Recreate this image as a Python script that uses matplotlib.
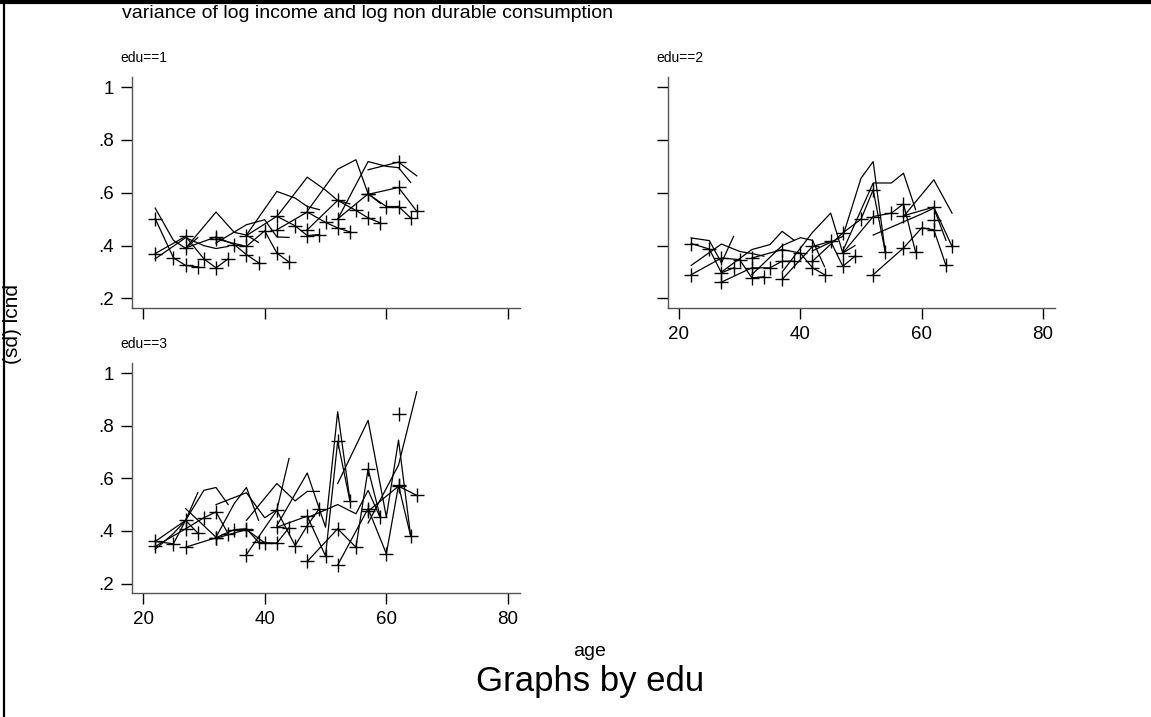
import matplotlib
matplotlib.use("Agg")
import matplotlib.pyplot as plt

# Ages at which each birth cohort is observed (5-year cohort bands,
# surveys spaced 5, 3, 2 and 2 years apart; ages capped at 65).
cohort_ages = [
    [22, 25, 27, 29],
    [22, 27, 30, 32, 34],
    [27, 32, 35, 37, 39],
    [32, 37, 40, 42, 44],
    [37, 42, 45, 47, 49],
    [42, 47, 50, 52, 54],
    [47, 52, 55, 57, 59],
    [52, 57, 60, 62, 64],
    [57, 62, 65],
    [62],
]

# Standard deviations by cohort: plain lines and "+" connected lines.
edu1_plain = [
    [0.542, 0.42, 0.39, 0.43],
    [0.35, 0.43, 0.40, 0.389, 0.397],
    [0.39, 0.527, 0.45, 0.44, 0.412],
    [0.41, 0.479, 0.498, 0.433, 0.431],
    [0.44, 0.605, 0.58, 0.548, 0.536],
    [0.51, 0.659, 0.61, 0.571, 0.558],
    [0.53, 0.689, 0.725, 0.596, 0.56],
    [0.50, 0.718, 0.70, 0.695, 0.639],
    [0.687, 0.716, 0.664],
]
edu1_plus = [
    [0.502, 0.354, 0.325, 0.32],
    [0.37, 0.435, 0.35, 0.316, 0.35],
    [0.391, 0.433, 0.404, 0.366, 0.335],
    [0.425, 0.397, 0.456, 0.372, 0.338],
    [0.438, 0.511, 0.475, 0.438, 0.442],
    [0.46, 0.527, 0.488, 0.467, 0.452],
    [0.46, 0.571, 0.533, 0.505, 0.486],
    [0.501, 0.596, 0.548, 0.548, 0.505],
    [0.594, 0.62, 0.53],
    [0.716],
]

edu2_plain = [
    [0.429, 0.419, 0.335, 0.435],
    [0.325, 0.406, 0.378, 0.37, 0.36],
    [0.30, 0.385, 0.404, 0.454, 0.42],
    [0.29, 0.40, 0.43, 0.42, 0.32],
    [0.30, 0.45, 0.523, 0.372, 0.40],
    [0.38, 0.435, 0.655, 0.718, 0.375],
    [0.38, 0.637, 0.637, 0.674, 0.536],
    [0.44, 0.49, 0.52, 0.542, 0.42],
    [0.51, 0.649, 0.523],
]
edu2_plus = [
    [0.408, 0.387, 0.297, 0.316],
    [0.29, 0.353, 0.347, 0.278, 0.282],
    [0.262, 0.316, 0.316, 0.341, 0.341],
    [0.353, 0.385, 0.372, 0.316, 0.29],
    [0.272, 0.397, 0.416, 0.322, 0.36],
    [0.341, 0.448, 0.50, 0.611, 0.375],
    [0.372, 0.51, 0.523, 0.558, 0.375],
    [0.29, 0.391, 0.467, 0.46, 0.325],
    [0.513, 0.546, 0.397],
    [0.498],
]

edu3_plain = [
    [0.33, 0.39, 0.44, 0.545],
    [0.36, 0.44, 0.554, 0.565, 0.50],
    [0.485, 0.376, 0.504, 0.565, 0.44],
    [0.50, 0.545, 0.45, 0.48, 0.675],
    [0.44, 0.58, 0.514, 0.55, 0.55],
    [0.42, 0.62, 0.414, 0.853, 0.52],
    [0.45, 0.50, 0.465, 0.554, 0.45],
    [0.58, 0.82, 0.453, 0.745, 0.38],
    [0.43, 0.65, 0.929],
]
edu3_plus = [
    [0.36, 0.351, 0.44, 0.392],
    [0.341, 0.408, 0.45, 0.472, 0.389],
    [0.338, 0.374, 0.405, 0.408, 0.357],
    [0.372, 0.405, 0.355, 0.354, 0.412],
    [0.31, 0.478, 0.344, 0.42, 0.485],
    [0.414, 0.456, 0.305, 0.741, 0.515],
    [0.284, 0.408, 0.338, 0.635, 0.453],
    [0.27, 0.485, 0.313, 0.573, 0.38],
    [0.475, 0.57, 0.535],
    [0.845],
]

panel_titles = ["edu==1", "edu==2", "edu==3"]
x_ticks = [20, 40, 60, 80]
y_ticks = [0.2, 0.4, 0.6, 0.8, 1.0]
y_tick_labels = [".2", ".4", ".6", ".8", "1"]

plt.rcParams["font.family"] = ["Liberation Sans", "DejaVu Sans"]

W, H = 1151, 717
fig = plt.figure(figsize=(W / 100, H / 100), dpi=100)


def frac(x0, y0, x1, y1):
    return [x0 / W, 1 - y1 / H, (x1 - x0) / W, (y1 - y0) / H]


# axis boxes in pixel coordinates (left, top, right, bottom)
boxes = [
    (132, 77, 520, 308),
    (668, 77, 1055, 308),
    (132, 363, 520, 593),
]
panels = [
    (edu1_plain, edu1_plus, True, False),
    (edu2_plain, edu2_plus, False, True),
    (edu3_plain, edu3_plus, True, True),
]

for (x0, y0, x1, y1), title, (plain, plus, ylab, xlab) in zip(boxes, panel_titles, panels):
    ax = fig.add_axes(frac(x0, y0, x1, y1))
    for ages, vals in zip(cohort_ages, plain):
        ax.plot(ages, vals, color="black", lw=0.9)
    for ages, vals in zip(cohort_ages, plus):
        ax.plot(ages, vals, color="black", lw=0.9, marker="+", ms=10, mew=1.0)
    ax.set_xlim(18.19, 81.97)
    ax.set_ylim(0.164, 1.038)
    ax.set_xticks(x_ticks)
    ax.set_yticks(y_ticks)
    ax.set_yticklabels(y_tick_labels if ylab else [])
    ax.set_xticklabels([str(t) for t in x_ticks] if xlab else [])
    for s in ("top", "right"):
        ax.spines[s].set_visible(False)
    for s in ("left", "bottom"):
        ax.spines[s].set_color("#555555")
        ax.spines[s].set_linewidth(1.0)
    ax.tick_params(direction="out", length=8, width=1, colors="black",
                   labelsize=13.5, pad=5)
    ax.text(-12 / (x1 - x0), 1.0 + 12 / (y1 - y0), title, transform=ax.transAxes,
            fontsize=10, ha="left", va="bottom")

# outer frame of the graph: left rule and top rule
fig.add_artist(plt.Line2D([3.5 / W, 3.5 / W], [0, 1], transform=fig.transFigure,
                          color="black", lw=1.6))
fig.add_artist(plt.Line2D([0, 1], [1 - 1.5 / H, 1 - 1.5 / H],
                          transform=fig.transFigure, color="black", lw=3))

fig.text(122 / W, 1 - 14 / H, "variance of log income and log non durable consumption",
         fontsize=14, ha="left", va="center")
fig.text(13 / W, 1 - 324 / H, "(sd) lcnd", rotation=90, fontsize=15,
         ha="center", va="center")
fig.text(590 / W, 1 - 652 / H, "age", fontsize=14, ha="center", va="center")
fig.text(590 / W, 1 - 682 / H, "Graphs by edu", fontsize=25, ha="center", va="center")

fig.savefig("out.png", dpi=100)
